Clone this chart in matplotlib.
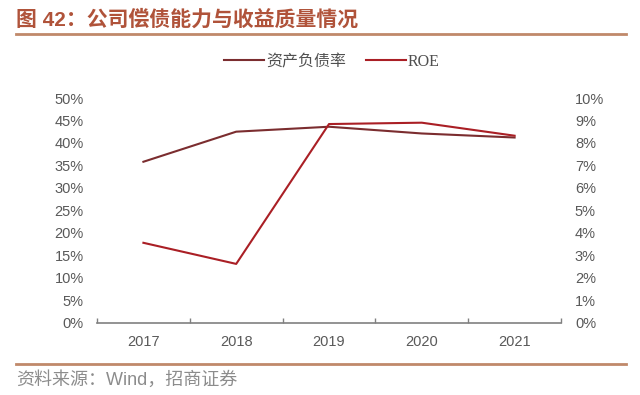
import numpy as np
import matplotlib.pyplot as plt
from matplotlib.lines import Line2D

plt.rcParams['font.family'] = ['Liberation Sans', 'Noto Sans CJK SC', 'DejaVu Sans']

# data
years = ["2017", "2018", "2019", "2020", "2021"]
debt_ratio = [35.8, 42.5, 43.6, 42.1, 41.2]   # left axis, %
roe = [3.55, 2.61, 8.84, 8.90, 8.32]          # right axis, %
left_ticks = [0, 5, 10, 15, 20, 25, 30, 35, 40, 45, 50]
right_ticks = [0, 1, 2, 3, 4, 5, 6, 7, 8, 9, 10]

c_debt = "#7B2D2F"
c_roe = "#AA1F25"
c_title = "#B0533A"
c_rule = "#C0896A"
c_tick = "#595959"

fig = plt.figure(figsize=(6.4, 3.95), dpi=100)
ax = fig.add_axes([97 / 640, 1 - 322.5 / 395, (561 - 97) / 640, (322.5 - 98) / 395])
ax2 = ax.twinx()

x = np.arange(len(years))
ax.plot(x, debt_ratio, color=c_debt, lw=1.5, zorder=3)
ax2.plot(x, roe, color=c_roe, lw=1.5, zorder=3)

ax.set_xlim(-0.5, len(years) - 0.5)
ax.set_ylim(0, 50)
ax2.set_ylim(0, 10)
ax.set_yticks(left_ticks)
ax.set_yticklabels([f"{t}%" for t in left_ticks])
ax2.set_yticks(right_ticks)
ax2.set_yticklabels([f"{t}%" for t in right_ticks])

ax.set_xticks(x)
ax.set_xticklabels(years)
ax.set_xticks(np.arange(-0.5, len(years)), minor=True)
ax.tick_params(axis="x", which="major", length=0, pad=9, labelsize=10.5, colors=c_tick)
ax.tick_params(axis="x", which="minor", direction="in", length=3.5, width=1, color="#808080")
ax.tick_params(axis="y", length=0, pad=9.5, labelsize=10.5, colors=c_tick)
ax2.tick_params(axis="y", length=0, pad=10, labelsize=10.5, colors=c_tick)

for a in (ax, ax2):
    for s in ["top", "left", "right", "bottom"]:
        a.spines[s].set_visible(False)
ax.spines["bottom"].set_visible(True)
ax.spines["bottom"].set_color("#808080")
ax.spines["bottom"].set_linewidth(1.2)

# legend
handles = [Line2D([], [], color=c_debt, lw=1.5), Line2D([], [], color=c_roe, lw=1.5)]
leg = fig.legend(handles, ["资产负债率", "ROE"], loc="center", bbox_to_anchor=(332 / 640, 1 - 62 / 395),
                 ncol=2, frameon=False, fontsize=11.5, handlelength=2.5, handletextpad=0.15,
                 columnspacing=1.2, labelcolor="#505050")
leg.get_texts()[1].set_family("Liberation Serif")

# title and rules
fig.text(16 / 640, 1 - 19 / 395, "图 42：公司偿债能力与收益质量情况", color=c_title,
         fontsize=15, fontweight="bold", va="center", ha="left")
fig.add_artist(Line2D([16 / 640, 626 / 640], [1 - 34 / 395, 1 - 34 / 395], color=c_rule, lw=2))
fig.add_artist(Line2D([16 / 640, 626 / 640], [1 - 364 / 395, 1 - 364 / 395], color=c_rule, lw=2))
fig.text(16 / 640, 1 - 380 / 395, "资料来源：Wind，招商证券", color="#8C8C8C",
         fontsize=13, va="center", ha="left")

fig.savefig("out.png", dpi=100)
